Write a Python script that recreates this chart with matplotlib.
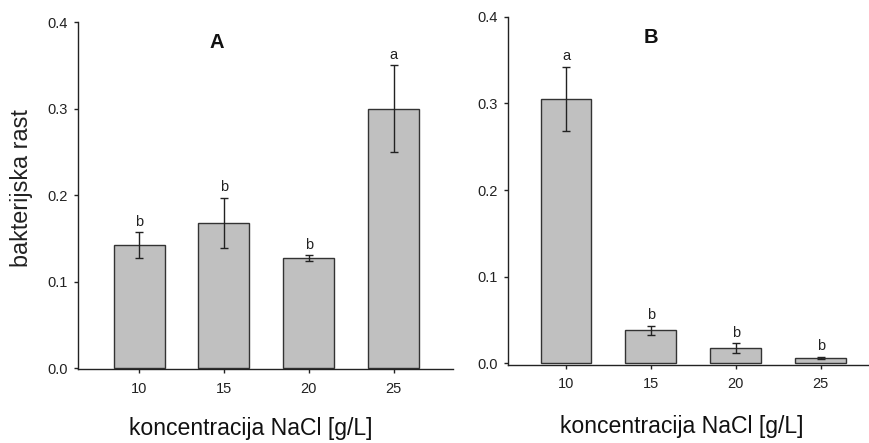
import matplotlib
matplotlib.use("Agg")
import matplotlib.pyplot as plt

plt.rcParams['font.family'] = ['Liberation Sans', 'DejaVu Sans']

categories = ["10", "15", "20", "25"]
values_A = [0.142, 0.168, 0.127, 0.300]
errors_A = [0.015, 0.029, 0.0035, 0.050]
letters_A = ["b", "b", "b", "a"]
values_B = [0.305, 0.038, 0.0175, 0.0065]
errors_B = [0.037, 0.0055, 0.0055, 0.001]
letters_B = ["a", "b", "b", "b"]
yticks = [0.0, 0.1, 0.2, 0.3, 0.4]

W, H = 869, 443
fig = plt.figure(figsize=(W / 100, H / 100), dpi=100)

def px_axes(x0, x1, ytop, ybot):
    return fig.add_axes([x0 / W, 1 - ybot / H, (x1 - x0) / W, (ybot - ytop) / H])

axA = px_axes(78, 453, 22, 369.3)
axB = px_axes(508.3, 869, 16.7, 364.6)

def draw(ax, vals, errs, letters, title, xlim, title_x):
    x = list(range(len(categories)))
    ax.bar(x, vals, width=0.6, color='#c0c0c0', edgecolor='#333333', linewidth=1.0, zorder=2)
    ax.errorbar(x, vals, yerr=errs, fmt='none', ecolor='#222222', elinewidth=1.0,
                capsize=2.8, capthick=1.0, zorder=3)
    for xi, v, e, l in zip(x, vals, errs, letters):
        ax.annotate(l, (xi, v + e), xytext=(0, 2.5), textcoords='offset points',
                    ha='center', va='bottom', fontsize=10.5, color='#222222')
    ax.set_xlim(*xlim)
    ax.set_ylim(-0.0015, 0.4)
    ax.set_xticks(x)
    ax.set_xticklabels(categories)
    ax.set_yticks(yticks)
    ax.set_yticklabels([f"{t:.1f}" for t in yticks])
    for s in ['top', 'right']:
        ax.spines[s].set_visible(False)
    for s in ['left', 'bottom']:
        ax.spines[s].set_color('#222222')
        ax.spines[s].set_linewidth(1.0)
    ax.tick_params(axis='both', direction='out', length=3, width=1, color='#222222',
                   labelsize=10.5, labelcolor='#222222')
    ax.tick_params(axis='x', pad=6)
    ax.tick_params(axis='y', pad=4.5)
    ax.text(title_x, 0.376, title, ha='center', va='center', fontsize=14.5,
            fontweight='bold', color='#111111')

draw(axA, values_A, errors_A, letters_A, "A", (-0.72, 3.7), 0.92)
draw(axB, values_B, errors_B, letters_B, "B", (-0.68, 3.57), 1.0)

fig.text(22 / W, 1 - 188.5 / H, "bakterijska rast", rotation=90, ha='center', va='center',
         fontsize=16.8, color='#222222')
fig.text(250.5 / W, 1 - 428 / H, "koncentracija NaCl [g/L]", ha='center', va='center',
         fontsize=16.6, color='#111111')
fig.text(681.7 / W, 1 - 426.5 / H, "koncentracija NaCl [g/L]", ha='center', va='center',
         fontsize=16.6, color='#111111')

fig.savefig("out.png", dpi=100)
